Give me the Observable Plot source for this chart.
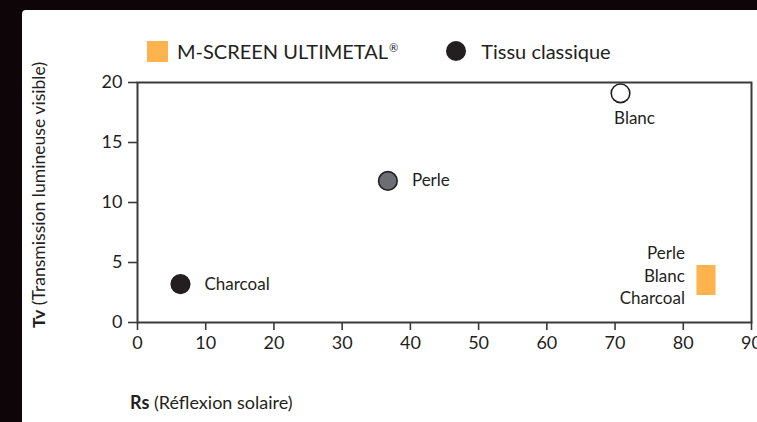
<!DOCTYPE html>
<html>
<head>
<meta charset="utf-8">
<script src="https://cdn.jsdelivr.net/npm/d3@7"></script>
<script src="https://cdn.jsdelivr.net/npm/@observablehq/plot@0.6"></script>
<style>
  html, body { margin: 0; padding: 0; background: #0d0508; width: 757px; height: 422px; overflow: hidden; }
  #panel { position: absolute; left: 22px; top: 10px; width: 735px; height: 412px; background: #fff; border-top-left-radius: 4px; }
  #chart { position: absolute; left: 0; top: 0; }
  #legend { position: absolute; left: 147px; top: 39px; display: flex; align-items: center; font-family: Lato, sans-serif; font-size: 20px; color: #231f20; }
  #legend sup { font-size: 11px; vertical-align: 7px; margin-left: 1px; }
  .sw { display: inline-block; }
</style>
</head>
<body>
<div id="panel"></div>
<div id="chart"></div>
<div id="legend"></div>
<script>
// Tissu classique
const classiqueNames = ["Blanc", "Perle", "Charcoal"];
const classiqueRs = [70.8, 36.7, 6.3];
const classiqueTv = [19.1, 11.8, 3.2];
// M-SCREEN ULTIMETAL® (range covering all three colours)
const ultimetalNames = ["Perle", "Blanc", "Charcoal"];
const ultimetalRs = [82, 84.8];
const ultimetalTv = [2.25, 4.75];
// axes
const xTicks = [0, 10, 20, 30, 40, 50, 60, 70, 80, 90];
const yTicks = [0, 5, 10, 15, 20];
const legendLabels = ["M-SCREEN ULTIMETAL", "®", "Tissu classique"];
const xTitle = ["Rs", "(Réflexion solaire)"];
const yTitle = ["Tv", "(Transmission lumineuse visible)"];

const classique = classiqueNames.map((n, i) => ({name: n, rs: classiqueRs[i], tv: classiqueTv[i]}));
const ultimetal = [{x1: ultimetalRs[0], x2: ultimetalRs[1], y1: ultimetalTv[0], y2: ultimetalTv[1], label: ultimetalNames.join("\n")}];

const ink = "#231f20";
const fillFor = {Blanc: "#ffffff", Perle: "#6d6e71", Charcoal: "#231f20"};
const orange = "#fdb44e";
const font = "Lato, sans-serif";

const chart = Plot.plot({
  width: 757,
  height: 422,
  marginLeft: 137,
  marginRight: 6,
  marginTop: 82,
  marginBottom: 100,
  style: {fontFamily: font, fontSize: "18px", color: ink, background: "transparent", overflow: "visible"},
  x: {domain: [0, 90], ticks: xTicks},
  y: {domain: [0, 20], ticks: yTicks},
  marks: [
    Plot.frame({stroke: "#3a3a3a", strokeWidth: 2}),
    Plot.axisX({ticks: xTicks, tickSize: 8, tickPadding: 6, label: null, stroke: "#3a3a3a", strokeWidth: 1.6, fontSize: 18}),
    Plot.axisY({ticks: yTicks, tickSize: 9, tickPadding: 6, label: null, stroke: "#3a3a3a", strokeWidth: 1.6, fontSize: 18, tickFormat: d => d}),
    Plot.rect(ultimetal, {x1: "x1", x2: "x2", y1: "y1", y2: "y2", fill: orange}),
    Plot.text(ultimetal, {x: "x1", y: d => (d.y1 + d.y2) / 2, text: "label", textAnchor: "end", dx: -12, dy: -6, lineHeight: 1.3, fill: ink, fontSize: 17}),
    Plot.dot(classique, {x: "rs", y: "tv", r: 9.3, fill: d => fillFor[d.name], stroke: ink, strokeWidth: 1.6}),
    Plot.text(classique.filter(d => d.name === "Blanc"), {x: "rs", y: "tv", text: "name", dx: 14, dy: 25, fill: ink, fontSize: 17}),
    Plot.text(classique.filter(d => d.name !== "Blanc"), {x: "rs", y: "tv", text: "name", textAnchor: "start", dx: 24, fill: ink, fontSize: 17})
  ]
});
document.getElementById("chart").appendChild(chart);

// Axis titles with bold abbreviations
const svg = d3.select(chart);
const xt = svg.append("text").attr("x", 130).attr("y", 409).attr("text-anchor", "start").attr("font-family", font).attr("font-size", 18).attr("fill", ink);
xt.append("tspan").attr("font-weight", "bold").text(xTitle[0]);
xt.append("tspan").text(" " + xTitle[1]);
const yt = svg.append("text").attr("transform", "translate(45,195) rotate(-90)").attr("text-anchor", "middle").attr("font-family", font).attr("font-size", 17.6).attr("fill", ink);
yt.append("tspan").attr("font-weight", "bold").text(yTitle[0]);
yt.append("tspan").text(" " + yTitle[1]);

// Legend
const lg = document.getElementById("legend");
lg.innerHTML = `
  <span class="sw" style="width:21px;height:21px;background:${orange};margin-right:9px"></span>
  <span>${legendLabels[0]}<sup>${legendLabels[1]}</sup></span>
  <span class="sw" style="width:20px;height:20px;border-radius:50%;background:${ink};margin-left:48px;margin-right:15px"></span>
  <span>${legendLabels[2]}</span>`;
</script>
</body>
</html>
